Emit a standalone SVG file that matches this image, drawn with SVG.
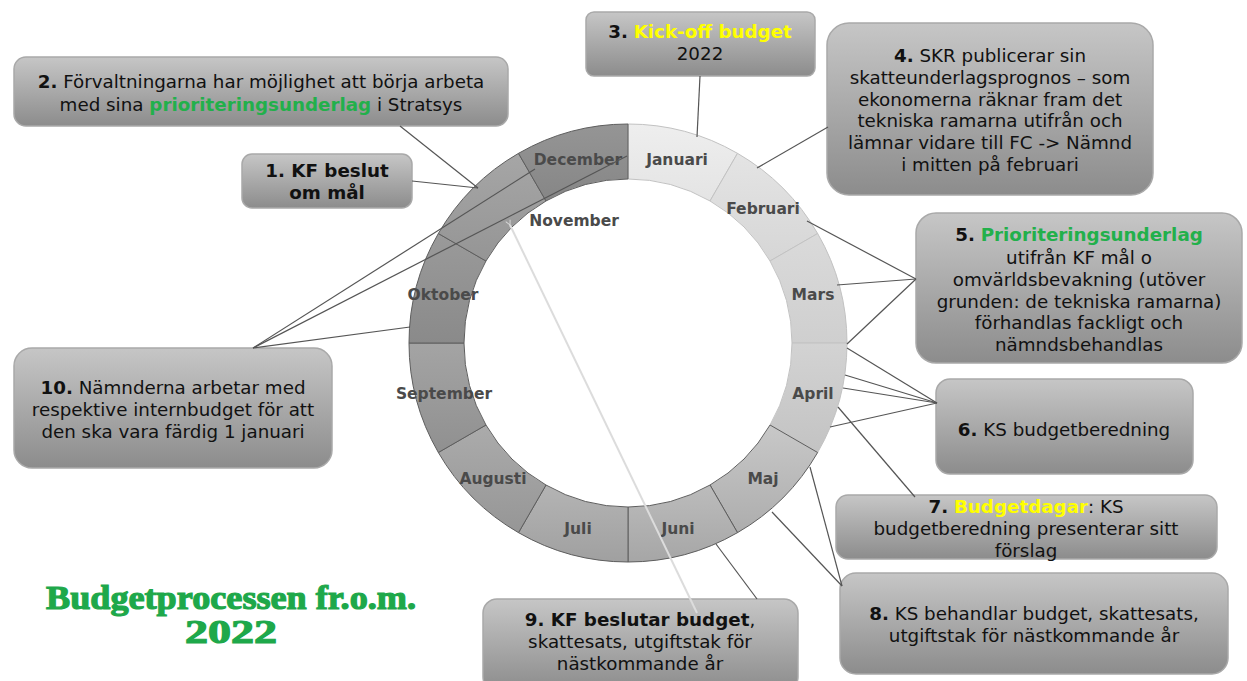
<svg xmlns="http://www.w3.org/2000/svg" width="1247" height="681" viewBox="0 0 1247 681">
<style>
.t{font-family:"DejaVu Sans",Verdana,sans-serif;font-size:18.3px;fill:#111;text-anchor:middle}
.b{font-weight:bold}
.g{fill:#22b04b;font-weight:bold}
.y{fill:#ffff00;font-weight:bold}
.m{font-family:"DejaVu Sans",Verdana,sans-serif;font-size:15.5px;font-weight:bold;fill:#4a4a4a;text-anchor:middle}
.box{fill:url(#bg);stroke:#a9a9a9;stroke-width:1.5}
.lt{stroke:#c2c2c2;stroke-width:1}
.dk{stroke:#5e5e5e;stroke-width:1}
.c{stroke:#555;stroke-width:1.2;fill:none}
.title{font-family:"Liberation Serif","DejaVu Serif",serif;font-weight:bold;fill:#1ea84a;stroke:#1ea84a;stroke-width:1.2;text-anchor:middle}
</style>
<defs>
<linearGradient id="bg" x1="0" y1="0" x2="0" y2="1"><stop offset="0" stop-color="#c6c6c6"/><stop offset="1" stop-color="#8c8c8c"/></linearGradient>
<linearGradient id="s1" x1="0" y1="0" x2="0" y2="1"><stop offset="0" stop-color="#eeeeee"/><stop offset="1" stop-color="#e4e4e4"/></linearGradient>
<linearGradient id="s2" x1="0" y1="0" x2="0" y2="1"><stop offset="0" stop-color="#e4e4e4"/><stop offset="1" stop-color="#d6d6d6"/></linearGradient>
<linearGradient id="s3" x1="0" y1="0" x2="0" y2="1"><stop offset="0" stop-color="#dadada"/><stop offset="1" stop-color="#cfcfcf"/></linearGradient>
<linearGradient id="s4" x1="0" y1="0" x2="0" y2="1"><stop offset="0" stop-color="#d3d3d3"/><stop offset="1" stop-color="#c3c3c3"/></linearGradient>
<linearGradient id="s5" x1="0" y1="0" x2="0" y2="1"><stop offset="0" stop-color="#c8c8c8"/><stop offset="1" stop-color="#adadad"/></linearGradient>
<linearGradient id="s6" x1="0" y1="0" x2="0" y2="1"><stop offset="0" stop-color="#bcbcbc"/><stop offset="1" stop-color="#a6a6a6"/></linearGradient>
<linearGradient id="s7" x1="0" y1="0" x2="0" y2="1"><stop offset="0" stop-color="#b4b4b4"/><stop offset="1" stop-color="#a0a0a0"/></linearGradient>
<linearGradient id="s8" x1="0" y1="0" x2="0" y2="1"><stop offset="0" stop-color="#ababab"/><stop offset="1" stop-color="#969696"/></linearGradient>
<linearGradient id="s9" x1="0" y1="0" x2="0" y2="1"><stop offset="0" stop-color="#a4a4a4"/><stop offset="1" stop-color="#909090"/></linearGradient>
<linearGradient id="s10" x1="0" y1="0" x2="0" y2="1"><stop offset="0" stop-color="#9a9a9a"/><stop offset="1" stop-color="#8a8a8a"/></linearGradient>
<linearGradient id="s11" x1="0" y1="0" x2="0" y2="1"><stop offset="0" stop-color="#a6a6a6"/><stop offset="1" stop-color="#959595"/></linearGradient>
<linearGradient id="s12" x1="0" y1="0" x2="0" y2="1"><stop offset="0" stop-color="#959595"/><stop offset="1" stop-color="#868686"/></linearGradient>
<marker id="ah" viewBox="0 0 10 10" refX="1" refY="5" markerWidth="6" markerHeight="6" orient="auto-start-reverse" markerUnits="userSpaceOnUse">
<path d="M9,1 L1,5 L9,9" fill="none" stroke="#dcdcdc" stroke-width="1.5"/>
</marker>
</defs>
<rect width="1247" height="681" fill="#fff"/>

<g id="ring">
<path class="lt" fill="url(#s1)" d="M628,124 A219,219 0 0 1 737.5,153.35 L710,200.98 A164,164 0 0 0 628,179 Z"/>
<path class="lt" fill="url(#s2)" d="M737.5,153.35 A219,219 0 0 1 817.65,233.5 L770.03,261 A164,164 0 0 0 710,200.98 Z"/>
<path class="lt" fill="url(#s3)" d="M817.65,233.5 A219,219 0 0 1 847,343 L792,343 A164,164 0 0 0 770.03,261 Z"/>
<path class="lt" fill="url(#s4)" d="M847,343 A219,219 0 0 1 817.65,452.5 L770.03,425 A164,164 0 0 0 792,343 Z"/>
<path class="dk" fill="url(#s5)" d="M817.65,452.5 A219,219 0 0 1 737.5,532.65 L710,485.02 A164,164 0 0 0 770.03,425 Z"/>
<path class="dk" fill="url(#s6)" d="M737.5,532.65 A219,219 0 0 1 628,562 L628,507 A164,164 0 0 0 710,485.02 Z"/>
<path class="dk" fill="url(#s7)" d="M628,562 A219,219 0 0 1 518.5,532.65 L546,485.02 A164,164 0 0 0 628,507 Z"/>
<path class="dk" fill="url(#s8)" d="M518.5,532.65 A219,219 0 0 1 438.35,452.5 L485.97,425 A164,164 0 0 0 546,485.02 Z"/>
<path class="dk" fill="url(#s9)" d="M438.35,452.5 A219,219 0 0 1 409,343 L464,343 A164,164 0 0 0 485.97,425 Z"/>
<path class="dk" fill="url(#s10)" d="M409,343 A219,219 0 0 1 438.35,233.5 L485.97,261 A164,164 0 0 0 464,343 Z"/>
<path class="dk" fill="url(#s11)" d="M438.35,233.5 A219,219 0 0 1 518.5,153.35 L546,200.98 A164,164 0 0 0 485.97,261 Z"/>
<path class="dk" fill="url(#s12)" d="M518.5,153.35 A219,219 0 0 1 628,124 L628,179 A164,164 0 0 0 546,200.98 Z"/>
<text class="m" x="677" y="165">Januari</text>
<text class="m" x="763" y="214">Februari</text>
<text class="m" x="813" y="300">Mars</text>
<text class="m" x="813" y="399">April</text>
<text class="m" x="763" y="484">Maj</text>
<text class="m" x="678" y="534">Juni</text>
<text class="m" x="578" y="534">Juli</text>
<text class="m" x="493" y="484">Augusti</text>
<text class="m" x="444" y="399">September</text>
<text class="m" x="443" y="300">Oktober</text>
<text class="m" x="574" y="226">November</text>
<text class="m" x="578" y="165">December</text>
</g>

<g id="n1"><rect class="box" x="242" y="154" width="170" height="54" rx="10"/>
<text class="t b" x="327" y="177">1. KF beslut</text><text class="t b" x="327" y="199">om mål</text></g>

<g id="n2"><rect class="box" x="14" y="57" width="494" height="69" rx="12"/>
<text class="t" x="261" y="88"><tspan class="b">2.</tspan> Förvaltningarna har möjlighet att börja arbeta</text>
<text class="t" x="261" y="111">med sina <tspan class="g">prioriteringsunderlag</tspan> i Stratsys</text></g>

<g id="n3"><rect class="box" x="586" y="12" width="229" height="64" rx="8"/>
<text class="t" x="700" y="38"><tspan class="b">3.</tspan> <tspan class="y">Kick-off budget</tspan></text>
<text class="t" x="700" y="60">2022</text></g>

<g id="n4"><rect class="box" x="827" y="23" width="326" height="172" rx="22"/>
<text class="t" x="990" y="62"><tspan class="b">4.</tspan> SKR publicerar sin</text>
<text class="t" x="990" y="84">skatteunderlagsprognos – som</text>
<text class="t" x="990" y="105.5">ekonomerna räknar fram det</text>
<text class="t" x="990" y="127">tekniska ramarna utifrån och</text>
<text class="t" x="990" y="149">lämnar vidare till FC -&gt; Nämnd</text>
<text class="t" x="990" y="170.5">i mitten på februari</text></g>

<g id="n5"><rect class="box" x="916" y="213" width="326" height="150" rx="20"/>
<text class="t" x="1079" y="241"><tspan class="b">5.</tspan> <tspan class="g">Prioriteringsunderlag</tspan></text>
<text class="t" x="1079" y="264">utifrån KF mål o</text>
<text class="t" x="1079" y="286">omvärldsbevakning (utöver</text>
<text class="t" x="1079" y="308">grunden: de tekniska ramarna)</text>
<text class="t" x="1079" y="329">förhandlas fackligt och</text>
<text class="t" x="1079" y="351">nämndsbehandlas</text></g>

<g id="n6"><rect class="box" x="936" y="379" width="257" height="95" rx="14"/>
<text class="t" x="1064" y="436"><tspan class="b">6.</tspan> KS budgetberedning</text></g>

<g id="n7"><rect class="box" x="836" y="495" width="381" height="64" rx="12"/>
<text class="t" x="1026" y="513"><tspan class="b">7.</tspan> <tspan class="y">Budgetdagar</tspan>: KS</text>
<text class="t" x="1026" y="535">budgetberedning presenterar sitt</text>
<text class="t" x="1026" y="557">förslag</text></g>

<g id="n8"><rect class="box" x="840" y="573" width="388" height="101" rx="16"/>
<text class="t" x="1034" y="620"><tspan class="b">8.</tspan> KS behandlar budget, skattesats,</text>
<text class="t" x="1034" y="642">utgiftstak för nästkommande år</text></g>

<g id="n9"><rect class="box" x="483" y="599" width="315" height="92" rx="14"/>
<text class="t" x="640" y="626"><tspan class="b">9. KF beslutar budget</tspan>,</text>
<text class="t" x="640" y="648">skattesats, utgiftstak för</text>
<text class="t" x="640" y="670">nästkommande år</text></g>

<g id="n10"><rect class="box" x="14" y="348" width="318" height="120" rx="18"/>
<text class="t" x="173" y="394"><tspan class="b">10.</tspan> Nämnderna arbetar med</text>
<text class="t" x="173" y="416">respektive internbudget för att</text>
<text class="t" x="173" y="438">den ska vara färdig 1 januari</text></g>

<g id="title">
<text class="title" x="231" y="609" font-size="34" textLength="370" lengthAdjust="spacingAndGlyphs">Budgetprocessen fr.o.m.</text>
<text class="title" x="231" y="643" font-size="34" textLength="92" lengthAdjust="spacingAndGlyphs">2022</text>
</g>

<g id="connectors">
<line class="c" x1="700" y1="76" x2="697" y2="137"/>
<line class="c" x1="828" y1="127" x2="757" y2="168"/>
<line class="c" x1="400" y1="126" x2="478" y2="188"/>
<line class="c" x1="412" y1="181" x2="478" y2="188"/>
<line class="c" x1="253" y1="348" x2="535" y2="169"/>
<line class="c" x1="253" y1="348" x2="627" y2="156"/>
<line class="c" x1="253" y1="348" x2="410" y2="327"/>
<line class="c" x1="916" y1="279" x2="807" y2="221"/>
<line class="c" x1="916" y1="279" x2="837" y2="285"/>
<line class="c" x1="916" y1="279" x2="847" y2="344"/>
<line class="c" x1="937" y1="403" x2="847" y2="348"/>
<line class="c" x1="937" y1="403" x2="845" y2="375"/>
<line class="c" x1="937" y1="403" x2="843" y2="388"/>
<line class="c" x1="937" y1="403" x2="830" y2="427"/>
<line class="c" x1="838" y1="407" x2="915" y2="497"/>
<line class="c" x1="842" y1="586" x2="810" y2="467"/>
<line class="c" x1="842" y1="586" x2="772" y2="512"/>
<line class="c" x1="716" y1="544" x2="757" y2="599"/>
<line x1="697" y1="613" x2="510" y2="225" stroke="#dcdcdc" stroke-width="2" marker-end="url(#ah)"/>
</g>
</svg>
